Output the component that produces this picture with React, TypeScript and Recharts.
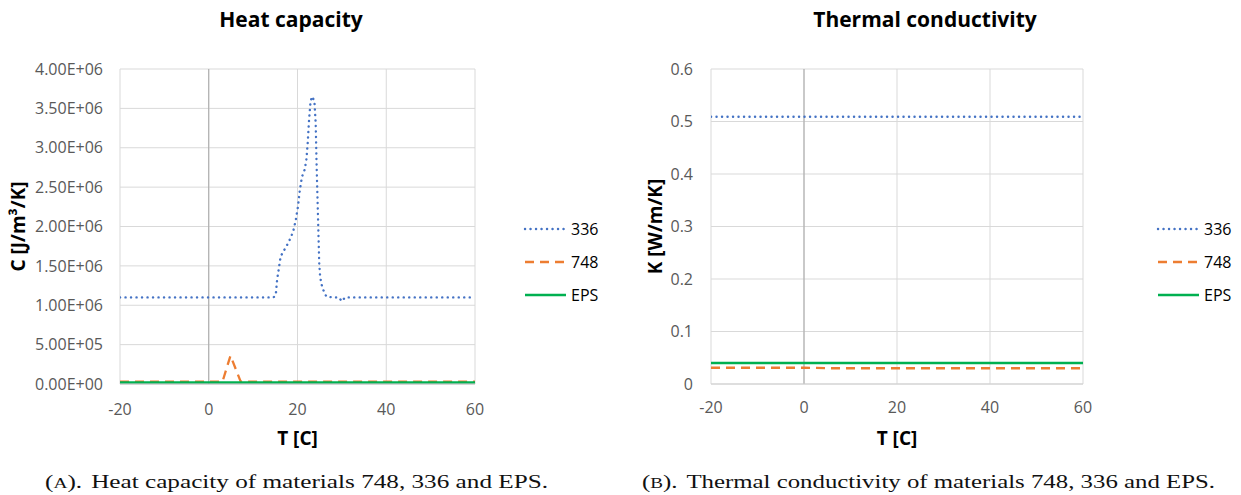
import React from 'react';
import { LineChart, Line, XAxis, YAxis, CartesianGrid, ReferenceLine, Legend } from 'recharts';

const FONT = '"Open Sans", "Noto Sans", sans-serif';

// ---- Heat capacity (left chart) ----
const heat336T = [-20, -15, -10, -5, 0, 5, 10, 14.6, 15.1, 15.4, 15.8, 16.2, 16.9, 18.0, 19.0, 19.6, 20.1, 20.5, 21.0, 21.6, 22.0, 22.3, 22.6, 22.9, 23.2, 23.8, 24.1, 24.3, 24.5, 24.7, 24.9, 25.1, 25.6, 26.5, 28, 29.3, 30, 30.7, 35, 40, 45, 50, 55, 60];
const heat336C = [1.1e6, 1.1e6, 1.1e6, 1.1e6, 1.1e6, 1.1e6, 1.1e6, 1.1e6, 1.13e6, 1.32e6, 1.47e6, 1.62e6, 1.69e6, 1.8e6, 1.93e6, 2.08e6, 2.25e6, 2.45e6, 2.63e6, 2.72e6, 2.85e6, 3.06e6, 3.35e6, 3.56e6, 3.65e6, 3.6e6, 3.31e6, 2.8e6, 2.38e6, 1.96e6, 1.53e6, 1.36e6, 1.22e6, 1.11e6, 1.1e6, 1.1e6, 1.05e6, 1.1e6, 1.1e6, 1.1e6, 1.1e6, 1.1e6, 1.1e6, 1.1e6];
const heat748T = [-20, -10, 0, 3.1, 4.9, 7.2, 10, 20, 30, 40, 50, 60];
const heat748C = [3e4, 3e4, 3e4, 3e4, 3.6e5, 3e4, 3e4, 3e4, 3e4, 3e4, 3e4, 3e4];
const heatEpsT = [-20, 0, 20, 40, 60];
const heatEpsC = [2e4, 2e4, 2e4, 2e4, 2e4];

// ---- Thermal conductivity (right chart) ----
const condT = [-20, 0, 6, 20, 40, 60];
const cond336K = [0.509, 0.509, 0.509, 0.509, 0.509, 0.509];
const cond748K = [0.031, 0.031, 0.03, 0.03, 0.03, 0.03];
const condEpsK = [0.04, 0.04, 0.04, 0.04, 0.04, 0.04];

const xTicks = [-20, 0, 20, 40, 60];
const heatTicks = [0, 5e5, 1e6, 1.5e6, 2e6, 2.5e6, 3e6, 3.5e6, 4e6];
const condTicks = [0, 0.1, 0.2, 0.3, 0.4, 0.5, 0.6];
const seriesNames = ['336', '748', 'EPS'];

const STYLES = [
  { color: '#4472C4', width: 2.4, dash: '0.1 5.4', cap: 'round' as const },
  { color: '#ED7D31', width: 2.3, dash: '9 6', cap: 'butt' as const },
  { color: '#00B050', width: 2.6, dash: undefined, cap: 'butt' as const },
];

const zip = (ts: number[], vs: number[]) => ts.map((t, i) => ({ t, v: vs[i] }));

const sciFmt = (v: number) => {
  if (v === 0) return '0.00E+00';
  const e = Math.floor(Math.log10(v) + 1e-9);
  const m = v / Math.pow(10, e);
  return `${m.toFixed(2)}E+${String(e).padStart(2, '0')}`;
};

const tickStyle = { fontSize: 16, fill: '#595959', fontFamily: FONT };

const LegendBox = () => (
  <svg width={100} height={90} style={{ overflow: 'visible' }}>
    {STYLES.map((s, i) => (
      <g key={seriesNames[i]}>
        <line x1={1} x2={42} y1={10 + i * 33} y2={10 + i * 33} stroke={s.color} strokeWidth={s.width}
          strokeDasharray={s.dash} strokeLinecap={s.cap} />
        <text x={47} y={10 + i * 33} dominantBaseline="central" fontSize={16} fill="#000" fontFamily={FONT}>
          {seriesNames[i]}
        </text>
      </g>
    ))}
  </svg>
);

const makeYTitle = (text: string) => (props: any) => {
  const vb = props.viewBox || {};
  const cx = vb.x + 18;
  const cy = vb.y + vb.height / 2;
  return (
    <text x={cx} y={cy} transform={`rotate(-90 ${cx} ${cy})`} textAnchor="middle" dominantBaseline="central"
      fontSize={19} fontWeight={700} fill="#000" fontFamily={FONT}>
      {text}
    </text>
  );
};

const makeXTitle = (text: string) => (props: any) => {
  const vb = props.viewBox || {};
  return (
    <text x={vb.x + vb.width / 2} y={vb.y + 61} textAnchor="middle" fontSize={19} fontWeight={700} fill="#000" fontFamily={FONT}>
      {text}
    </text>
  );
};

export default function App() {
  const h336 = zip(heat336T, heat336C);
  const h748 = zip(heat748T, heat748C);
  const hEps = zip(heatEpsT, heatEpsC);
  const k336 = zip(condT, cond336K);
  const k748 = zip(condT, cond748K);
  const kEps = zip(condT, condEpsK);

  return (
    <div style={{ position: 'absolute', left: 0, top: 0, width: 1241, height: 495, background: '#fff', overflow: 'hidden' }}>
      <div style={{ position: 'absolute', left: 0, top: 0 }}>
        <LineChart width={620} height={460} margin={{ top: 69, right: 145, bottom: 6, left: 0 }}>
          <CartesianGrid stroke="#D9D9D9" strokeWidth={1} />
          <XAxis type="number" dataKey="t" domain={[-20, 60]} ticks={xTicks} allowDataOverflow
            tick={tickStyle} tickLine={false} tickSize={0} tickMargin={20} height={70}
            axisLine={{ stroke: '#BFBFBF' }} label={{ content: makeXTitle('T [C]') }} />
          <YAxis type="number" domain={[0, 4e6]} ticks={heatTicks} tickFormatter={sciFmt} width={120}
            tick={tickStyle} tickLine={false} tickSize={0} tickMargin={17} axisLine={false}
            label={{ content: makeYTitle('C [J/m³/K]') }} />
          <ReferenceLine x={0} stroke="#A6A6A6" strokeWidth={1} />
          <Line data={h336} dataKey="v" name="336" type="linear" stroke={STYLES[0].color} strokeWidth={STYLES[0].width}
            strokeDasharray={STYLES[0].dash} strokeLinecap="round" dot={false} isAnimationActive={false} />
          <Line data={h748} dataKey="v" name="748" type="linear" stroke={STYLES[1].color} strokeWidth={STYLES[1].width}
            strokeDasharray={STYLES[1].dash} dot={false} isAnimationActive={false} />
          <Line data={hEps} dataKey="v" name="EPS" type="linear" stroke={STYLES[2].color} strokeWidth={STYLES[2].width}
            dot={false} isAnimationActive={false} />
          <Legend layout="vertical" align="center" verticalAlign="middle" content={<LegendBox />}
            wrapperStyle={{ left: 524, top: 219, width: 100, height: 90 }} />
        </LineChart>
      </div>
      <div style={{ position: 'absolute', left: 637, top: 0 }}>
        <LineChart width={604} height={460} margin={{ top: 69, right: 158, bottom: 6, left: 0 }}>
          <CartesianGrid stroke="#D9D9D9" strokeWidth={1} />
          <XAxis type="number" dataKey="t" domain={[-20, 60]} ticks={xTicks} allowDataOverflow
            tick={tickStyle} tickLine={false} tickSize={0} tickMargin={18} height={70}
            axisLine={{ stroke: '#D0D0D0' }} label={{ content: makeXTitle('T [C]') }} />
          <YAxis type="number" domain={[0, 0.6]} ticks={condTicks} width={74}
            tick={tickStyle} tickLine={false} tickSize={0} tickMargin={18} axisLine={false}
            label={{ content: makeYTitle('K [W/m/K]') }} />
          <ReferenceLine x={0} stroke="#A6A6A6" strokeWidth={1} />
          <Line data={k336} dataKey="v" name="336" type="linear" stroke={STYLES[0].color} strokeWidth={STYLES[0].width}
            strokeDasharray={STYLES[0].dash} strokeLinecap="round" dot={false} isAnimationActive={false} />
          <Line data={kEps} dataKey="v" name="EPS" type="linear" stroke={STYLES[2].color} strokeWidth={STYLES[2].width}
            dot={false} isAnimationActive={false} />
          <Line data={k748} dataKey="v" name="748" type="linear" stroke={STYLES[1].color} strokeWidth={STYLES[1].width}
            strokeDasharray={STYLES[1].dash} dot={false} isAnimationActive={false} />
          <Legend layout="vertical" align="center" verticalAlign="middle" content={<LegendBox />}
            wrapperStyle={{ left: 520, top: 219, width: 100, height: 90 }} />
        </LineChart>
      </div>
      <svg width={1241} height={495} style={{ position: 'absolute', left: 0, top: 0, pointerEvents: 'none' }}>
        <text x={291} y={27} textAnchor="middle" fontSize={21} fontWeight={700} fill="#000" fontFamily={FONT}>Heat capacity</text>
        <text x={925} y={27} textAnchor="middle" fontSize={21} fontWeight={700} fill="#000" fontFamily={FONT}>Thermal conductivity</text>
        <text x={45} y={488} fontSize={19.5} fill="#111" fontFamily='"Liberation Serif", serif' textLength={503} lengthAdjust="spacingAndGlyphs">
          (<tspan fontSize={15}>A</tspan>).<tspan dx={7}>Heat capacity of materials 748, 336 and EPS.</tspan>
        </text>
        <text x={642} y={488} fontSize={19.5} fill="#111" fontFamily='"Liberation Serif", serif' textLength={573} lengthAdjust="spacingAndGlyphs">
          (<tspan fontSize={15}>B</tspan>).<tspan dx={7}>Thermal conductivity of materials 748, 336 and EPS.</tspan>
        </text>
      </svg>
    </div>
  );
}
